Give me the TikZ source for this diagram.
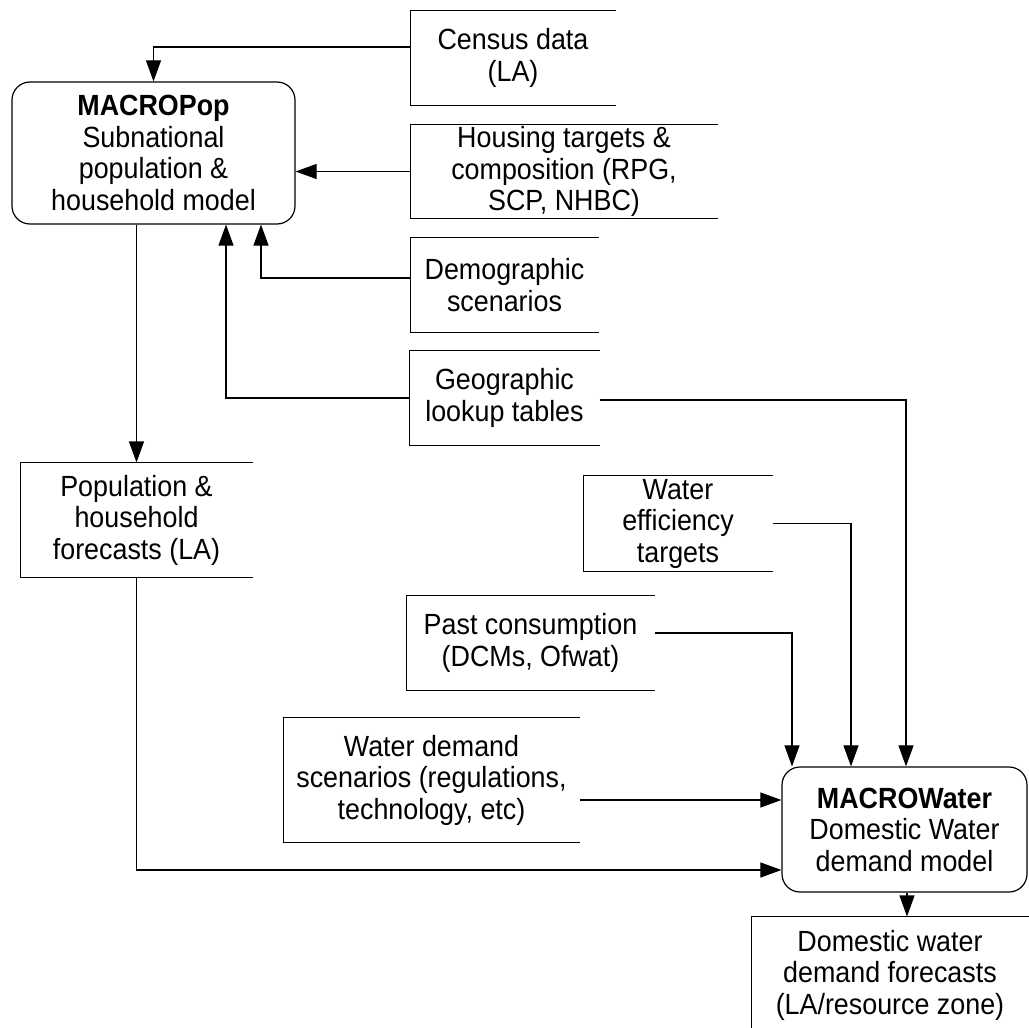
\documentclass[tikz,border=0pt]{standalone}
\usepackage{fontspec}
\setmainfont{Liberation Sans}[FakeStretch=0.92]
\usetikzlibrary{positioning,arrows.meta}

\begin{document}
\begin{tikzpicture}[x=0.5pt,y=-0.5pt,on grid,line width=0.55pt,
    >={Triangle[length=10.5pt,width=7.5pt]},
    font=\fontsize{14.6}{15.75}\selectfont,
    model/.style={draw,line width=0.6pt,rounded corners=9pt,align=center,inner sep=0pt},
    store/.style={align=center,inner sep=0pt}]
   \useasboundingbox (0,0) rectangle (1029,1028);
   \node[model,minimum width=141.5pt,minimum height=71pt] (pop) at (153.5,153)
        {\textbf{MACROPop}\\Subnational\\population \&\\household model};
   \node[store,minimum width=102pt,minimum height=47pt] (census)
        [above right=47.5pt and 179.75pt of pop] {Census data\\(LA)};
   \node[store,minimum width=153pt,minimum height=46.5pt] (housing)
        [below right=56.75pt and 25.5pt of census] {Housing targets \&\\composition (RPG,\\SCP, NHBC)};
   \node[store,minimum width=93.5pt,minimum height=47pt] (demo)
        [below left=56.75pt and 29.75pt of housing] {Demographic\\scenarios};
   \node[store,minimum width=94.5pt,minimum height=47pt] (geo)
        [below=56.5pt of demo] {Geographic\\lookup tables};
   \node[store,minimum width=115.5pt,minimum height=57pt] (popfc)
        [below left=183.5pt and 8.5pt of pop] {Population \&\\household\\forecasts (LA)};
   \node[store,minimum width=94pt,minimum height=47.5pt] (eff)
        [below right=62.75pt and 86.75pt of geo] {Water\\efficiency\\targets};
   \node[store,minimum width=123.5pt,minimum height=47pt] (past)
        [below left=59.75pt and 73.75pt of eff] {Past consumption\\(DCMs, Ofwat)};
   \node[store,minimum width=147.5pt,minimum height=62pt] (wds)
        [below left=68.5pt and 49.5pt of past] {Water demand\\scenarios (regulations,\\technology, etc)};
   \node[model,minimum width=122.5pt,minimum height=62.5pt] (water)
        [below right=24.75pt and 236.5pt of wds] {\textbf{MACROWater}\\Domestic Water\\demand model};
   \node[store,minimum width=138pt,minimum height=58pt] (domfc)
        [below left=72.75pt and 7.25pt of water] {Domestic water\\demand forecasts\\(LA/resource zone)};
   % open-sided data stores
   \foreach \s in {census,housing,demo,geo,popfc,eff,past,wds}
     \draw[line width=0.6pt] (\s.north east) -- (\s.north west) -- (\s.south west) -- (\s.south east);
   \draw[line width=0.6pt] (domfc.north east) -- (domfc.north west) -- (domfc.south west); % cut off below
   % flows into MACROPop
   \draw[->] ([yshift=5.5pt]census.west) -| (pop.north);
   \draw[->] (housing.west) -- (housing.west -| pop.east);
   \draw[->] ([yshift=3.5pt]demo.west) -| ([xshift=53.75pt]pop.south);
   \draw[->] (geo.west) -| ([xshift=36.25pt]pop.south);
   \draw[->] (pop.south -| popfc.north) -- (popfc.north);
   % flows into MACROWater
   \draw[->] ([yshift=-1pt]geo.east) -| ([xshift=0.75pt]water.north);
   \draw[->] (eff.east) -| ([xshift=-26.75pt]water.north);
   \draw[->] ([yshift=5pt]past.east) -| ([xshift=-56.25pt]water.north);
   \draw[->] ([yshift=-10pt]wds.east) -- ([yshift=-10pt]wds.east -| water.west);
   \draw[->] (popfc.south) |- ([yshift=-20.25pt]water.west);
   \draw[->] ([xshift=1.25pt]water.south) -- ([xshift=1.25pt]water.south |- domfc.north);
\end{tikzpicture}
\end{document}
